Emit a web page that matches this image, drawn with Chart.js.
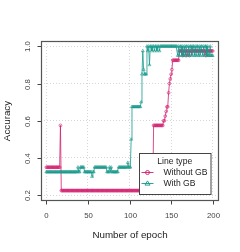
<!DOCTYPE html>
<html>
<head>
<meta charset="utf-8">
<script src="https://cdn.jsdelivr.net/npm/chart.js@4"></script>
<style>
  html, body { margin: 0; padding: 0; background: #fff; }
  #wrap { width: 240px; height: 252px; }
</style>
</head>
<body>
<div id="wrap"><canvas id="chart" width="240" height="252"></canvas></div>
<script>
// x positions: one point per epoch, 0..200
const epochs = Array.from({ length: 201 }, (_, i) => i);

const withoutGB = [
    0.35, 0.35, 0.35, 0.35, 0.35, 0.35, 0.35, 0.35, 0.35, 0.35,
    0.35, 0.35, 0.35, 0.35, 0.35, 0.35, 0.35, 0.575, 0.225, 0.225,
    0.225, 0.225, 0.225, 0.225, 0.225, 0.225, 0.225, 0.225, 0.225, 0.225,
    0.225, 0.225, 0.225, 0.225, 0.225, 0.225, 0.225, 0.225, 0.225, 0.225,
    0.225, 0.225, 0.225, 0.225, 0.225, 0.225, 0.225, 0.225, 0.225, 0.225,
    0.225, 0.225, 0.225, 0.225, 0.225, 0.225, 0.225, 0.225, 0.225, 0.225,
    0.225, 0.225, 0.225, 0.225, 0.225, 0.225, 0.225, 0.225, 0.225, 0.225,
    0.225, 0.225, 0.225, 0.225, 0.225, 0.225, 0.225, 0.225, 0.225, 0.225,
    0.225, 0.225, 0.225, 0.225, 0.225, 0.225, 0.225, 0.225, 0.225, 0.225,
    0.225, 0.225, 0.225, 0.225, 0.225, 0.225, 0.225, 0.225, 0.225, 0.225,
    0.225, 0.225, 0.225, 0.225, 0.225, 0.225, 0.225, 0.225, 0.225, 0.225,
    0.225, 0.225, 0.225, 0.225, 0.225, 0.225, 0.225, 0.225, 0.225, 0.225,
    0.225, 0.225, 0.225, 0.225, 0.225, 0.225, 0.225, 0.225, 0.225, 0.575,
    0.575, 0.575, 0.575, 0.575, 0.575, 0.575, 0.575, 0.575, 0.575, 0.575,
    0.575, 0.6, 0.6, 0.625, 0.65, 0.675, 0.675, 0.75, 0.8, 0.825,
    0.85, 0.875, 0.925, 0.925, 0.925, 0.925, 0.925, 0.925, 0.925, 0.925,
    0.975, 0.975, 0.975, 0.975, 0.95, 0.975, 0.975, 0.975, 0.95, 0.975,
    0.975, 0.975, 0.95, 0.975, 0.975, 0.975, 0.975, 0.975, 0.975, 0.975,
    0.975, 0.975, 0.975, 0.975, 0.975, 0.975, 0.975, 0.975, 0.975, 0.975,
    0.975, 0.975, 0.95, 0.975, 0.975, 0.975, 0.975, 0.975, 0.975, 0.975,
    0.975
];

const withGB = [
    0.325, 0.325, 0.325, 0.325, 0.325, 0.325, 0.325, 0.325, 0.325, 0.325,
    0.325, 0.325, 0.325, 0.325, 0.325, 0.325, 0.325, 0.325, 0.325, 0.325,
    0.325, 0.325, 0.325, 0.325, 0.325, 0.325, 0.325, 0.325, 0.325, 0.325,
    0.325, 0.325, 0.325, 0.325, 0.325, 0.325, 0.325, 0.325, 0.35, 0.325,
    0.325, 0.35, 0.35, 0.35, 0.35, 0.35, 0.325, 0.325, 0.325, 0.325,
    0.325, 0.325, 0.325, 0.325, 0.325, 0.3, 0.325, 0.325, 0.35, 0.35,
    0.35, 0.35, 0.35, 0.35, 0.35, 0.35, 0.35, 0.35, 0.35, 0.35,
    0.35, 0.35, 0.35, 0.325, 0.325, 0.325, 0.35, 0.325, 0.35, 0.325,
    0.325, 0.325, 0.325, 0.325, 0.325, 0.325, 0.325, 0.35, 0.35, 0.35,
    0.35, 0.35, 0.35, 0.35, 0.35, 0.35, 0.35, 0.35, 0.375, 0.35,
    0.35, 0.35, 0.5, 0.675, 0.675, 0.675, 0.675, 0.675, 0.675, 0.675,
    0.675, 0.675, 0.675, 0.675, 0.7, 0.85, 0.975, 0.875, 0.85, 0.85,
    0.85, 1.0, 0.975, 1.0, 0.9, 1.0, 1.0, 0.975, 1.0, 1.0,
    0.975, 1.0, 1.0, 0.975, 1.0, 1.0, 0.975, 1.0, 1.0, 1.0,
    1.0, 1.0, 1.0, 1.0, 1.0, 1.0, 1.0, 1.0, 1.0, 1.0,
    1.0, 1.0, 1.0, 1.0, 1.0, 1.0, 1.0, 1.0, 0.95, 1.0,
    0.95, 1.0, 1.0, 0.95, 1.0, 0.95, 1.0, 0.95, 1.0, 1.0,
    0.95, 1.0, 0.95, 1.0, 1.0, 0.95, 1.0, 1.0, 0.95, 1.0,
    0.95, 1.0, 1.0, 0.95, 1.0, 0.95, 1.0, 1.0, 0.95, 1.0,
    0.95, 1.0, 1.0, 0.95, 1.0, 0.95, 0.95, 1.0, 0.95, 0.95,
    0.95
];

const xTicks = [0, 50, 100, 150, 200];
const yTicks = [0.2, 0.4, 0.6, 0.8, 1.0];
const seriesNames = ["Without GB", "With GB"];
const legendTitle = "Line type";
const xTitle = "Number of epoch";
const yTitle = "Accuracy";

const MAGENTA = "#d21f6f";
const TEAL = "#17998a";
const FONT = "'Liberation Sans', Arial, sans-serif";

// draws the R-style frame, tick labels, titles and the boxed legend
const framePlugin = {
    id: "frame",
    afterDraw(chart) {
        const ctx = chart.ctx;
        const area = chart.chartArea;
        const xs = chart.scales.x;
        const ys = chart.scales.y;

        ctx.save();
        ctx.strokeStyle = "#555";
        ctx.lineWidth = 1.2;
        ctx.strokeRect(area.left + 0.5, area.top + 0.5, area.right - area.left - 1, area.bottom - area.top - 1);

        ctx.strokeStyle = "#444";
        ctx.lineWidth = 1;
        ctx.fillStyle = "#444";
        ctx.font = "7.8px " + FONT;
        ctx.textAlign = "center";
        ctx.textBaseline = "middle";
        xTicks.forEach((v) => {
            const px = Math.round(xs.getPixelForValue(v)) + 0.5;
            ctx.beginPath();
            ctx.moveTo(px, area.bottom);
            ctx.lineTo(px, area.bottom + 3.5);
            ctx.stroke();
            ctx.fillText(String(v), px, area.bottom + 15);
        });
        yTicks.forEach((v) => {
            const py = Math.round(ys.getPixelForValue(v)) + 0.5;
            ctx.beginPath();
            ctx.moveTo(area.left, py);
            ctx.lineTo(area.left - 3.5, py);
            ctx.stroke();
            ctx.save();
            ctx.translate(area.left - 13.5, py);
            ctx.rotate(-Math.PI / 2);
            ctx.fillText(v.toFixed(1), 0, 0);
            ctx.restore();
        });

        ctx.fillStyle = "#222";
        ctx.font = "9.8px " + FONT;
        ctx.fillText(xTitle, (area.left + area.right) / 2, 235);
        ctx.save();
        ctx.translate(7, (area.top + area.bottom) / 2);
        ctx.rotate(-Math.PI / 2);
        ctx.fillText(yTitle, 0, 0);
        ctx.restore();

        // legend box
        const lx = 139, ly = 153, lw = 71.5, lh = 41;
        ctx.fillStyle = "#fff";
        ctx.fillRect(lx, ly, lw, lh);
        ctx.strokeStyle = "#444";
        ctx.lineWidth = 1;
        ctx.strokeRect(lx + 0.5, ly + 0.5, lw, lh);
        ctx.fillStyle = "#222";
        ctx.font = "8.6px " + FONT;
        ctx.fillText(legendTitle, lx + lw / 2, ly + 8.5);

        chart.data.datasets.forEach((ds, i) => {
            const ry = ly + 19.5 + i * 11;
            ctx.strokeStyle = ds.borderColor;
            ctx.lineWidth = 0.9;
            ctx.beginPath();
            ctx.moveTo(lx + 2.5, ry);
            ctx.lineTo(lx + 14.5, ry);
            ctx.stroke();
            ctx.beginPath();
            if (ds.pointStyle === "triangle") {
                ctx.moveTo(lx + 8.5, ry - 2.6);
                ctx.lineTo(lx + 11, ry + 1.6);
                ctx.lineTo(lx + 6, ry + 1.6);
                ctx.closePath();
            } else {
                ctx.arc(lx + 8.5, ry, 2, 0, Math.PI * 2);
            }
            ctx.stroke();
            ctx.fillStyle = "#222";
            ctx.textAlign = "left";
            ctx.fillText(ds.label, lx + 24.5, ry);
        });
        ctx.restore();
    },
};

const datasets = [
    {
        label: seriesNames[0],
        data: withoutGB,
        borderColor: MAGENTA,
        borderWidth: 0.8,
        pointStyle: "circle",
        pointRadius: 1.4,
        pointBorderWidth: 0.6,
        pointBackgroundColor: "rgba(0,0,0,0)",
        pointBorderColor: MAGENTA,
        tension: 0,
        order: 1,
    },
    {
        label: seriesNames[1],
        data: withGB,
        borderColor: TEAL,
        borderWidth: 0.8,
        pointStyle: "triangle",
        pointRadius: 1.7,
        pointBorderWidth: 0.6,
        pointBackgroundColor: "rgba(0,0,0,0)",
        pointBorderColor: TEAL,
        tension: 0,
        order: 0,
    },
];

const gridOpts = {
    color: "#d6d6d6",
    lineWidth: 1,
    drawTicks: false,
};

new Chart(document.getElementById("chart").getContext("2d"), {
    type: "line",
    data: { labels: epochs, datasets },
    plugins: [framePlugin],
    options: {
        responsive: false,
        animation: false,
        layout: { padding: { top: 41, right: 21, left: 0, bottom: 0 } },
        plugins: {
            legend: { display: false },
            tooltip: { enabled: false },
        },
        scales: {
            x: {
                type: "linear",
                min: -6.4,
                max: 207.6,
                ticks: { display: false },
                grid: gridOpts,
                border: { display: false, dash: [1, 2] },
                afterBuildTicks: (scale) => {
                    scale.ticks = xTicks.map((v) => ({ value: v }));
                },
                afterFit: (scale) => {
                    scale.height = 51;
                },
            },
            y: {
                type: "linear",
                min: 0.169,
                max: 1.0285,
                ticks: { display: false },
                grid: gridOpts,
                border: { display: false, dash: [1, 2] },
                afterBuildTicks: (scale) => {
                    scale.ticks = yTicks.map((v) => ({ value: v }));
                },
                afterFit: (scale) => {
                    scale.width = 41;
                },
            },
        },
    },
});
</script>
</body>
</html>
